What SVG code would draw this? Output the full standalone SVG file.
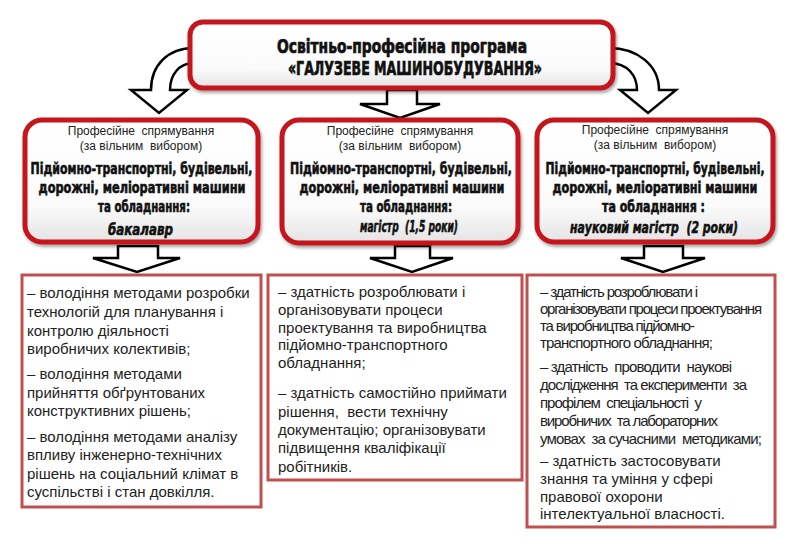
<svg xmlns="http://www.w3.org/2000/svg" width="794" height="560" viewBox="0 0 794 560">
<defs>
<linearGradient id="gBox" x1="0" y1="0" x2="0" y2="1">
<stop offset="0" stop-color="#ffffff"/>
<stop offset="0.7" stop-color="#fbfbfb"/>
<stop offset="1" stop-color="#e4e4e4"/>
</linearGradient>
<filter id="sh" x="-10%" y="-10%" width="120%" height="130%">
<feDropShadow dx="1.5" dy="2.5" stdDeviation="1.8" flood-color="#000" flood-opacity="0.35"/>
</filter>
</defs>
<style>
.rbox{fill:url(#gBox);stroke:#c4121c;stroke-width:5;filter:url(#sh)}
.obox{fill:#fff;stroke:#c0504d;stroke-width:3}
.arr{fill:#fff;stroke:#000;stroke-width:2.5;stroke-linejoin:miter}
.cond{font-family:"Liberation Sans Narrow","DejaVu Sans Condensed","Liberation Sans",sans-serif;font-weight:bold;fill:#111;stroke:#111;stroke-width:0.55}
.title{font-size:20px;stroke-width:0.7}
.bl{font-size:15px;text-anchor:middle}
.it{font-style:italic}
.sm{font-family:"Liberation Sans",Arial,sans-serif;font-size:12px;fill:#222;text-anchor:middle;white-space:pre}
.tx{font-family:"Liberation Sans",Arial,sans-serif;font-size:15px;fill:#222;white-space:pre}
</style>
<rect width="794" height="560" fill="#fff"/>
<g id="connectors">
<path class="arr" d="M194,48 C168,48 151,65 151,90 L131,90 L159,113 L187,90 L170,90 C170,76 178,63 194,63 Z"/>
<path class="arr" d="M609,48 C637,48 659,65 659,90 L676,90 L648,113 L620,90 L637,90 C637,76 628,63 609,63 Z"/>
<path class="arr" d="M387,90 L417,90 L417,104 L440,104 L400,118 L360,104 L387,104 Z"/>
<path class="arr" d="M118,246 L158,246 L158,258 L180,258 L137,272 L93,258 L118,258 Z"/>
<path class="arr" d="M395,246 L430,246 L430,258 L453,258 L412,272 L370,258 L395,258 Z"/>
<path class="arr" d="M644,246 L683,246 L683,258 L705,258 L663,272 L621,258 L644,258 Z"/>
</g>
<g id="top">
<rect class="rbox" x="190" y="22" width="423" height="66" rx="13"/>
<text class="cond title" x="402" y="53" text-anchor="middle" textLength="250" lengthAdjust="spacingAndGlyphs">Освітньо-професійна програма</text>
<text class="cond title" x="415" y="75" text-anchor="middle" textLength="254" lengthAdjust="spacingAndGlyphs">«ГАЛУЗЕВЕ МАШИНОБУДУВАННЯ»</text>
</g>
<g id="box1">
<rect class="rbox" x="25" y="120" width="233" height="122" rx="17"/>
<text class="sm" x="141" y="135">Професійне  спрямування</text>
<text class="sm" x="141" y="150">(за вільним  вибором)</text>
<text class="cond bl" x="141.5" y="174" textLength="222" lengthAdjust="spacingAndGlyphs">Підйомно-транспортні, будівельні,</text>
<text class="cond bl" x="142" y="193" textLength="207" lengthAdjust="spacingAndGlyphs">дорожні, меліоративні машини</text>
<text class="cond bl" x="144" y="212" textLength="92" lengthAdjust="spacingAndGlyphs">та обладнання:</text>
<text class="cond bl it" x="140.5" y="235" textLength="65" lengthAdjust="spacingAndGlyphs">бакалавр</text>
</g>
<g id="box2">
<rect class="rbox" x="282" y="120" width="236" height="123" rx="17"/>
<text class="sm" x="400" y="135">Професійне  спрямування</text>
<text class="sm" x="400" y="150">(за вільним  вибором)</text>
<text class="cond bl" x="401" y="174" textLength="222" lengthAdjust="spacingAndGlyphs">Підйомно-транспортні, будівельні,</text>
<text class="cond bl" x="402" y="193" textLength="205" lengthAdjust="spacingAndGlyphs">дорожні, меліоративні машини</text>
<text class="cond bl" x="406" y="212" textLength="92" lengthAdjust="spacingAndGlyphs">та обладнання:</text>
<text class="cond bl it" x="409" y="232" textLength="98" lengthAdjust="spacingAndGlyphs" style="white-space:pre">магістр  (1,5 роки)</text>
</g>
<g id="box3">
<rect class="rbox" x="537" y="120" width="236" height="122" rx="17"/>
<text class="sm" x="655" y="134">Професійне  спрямування</text>
<text class="sm" x="655" y="149">(за вільним  вибором)</text>
<text class="cond bl" x="655" y="174" textLength="219" lengthAdjust="spacingAndGlyphs">Підйомно-транспортні, будівельні,</text>
<text class="cond bl" x="655" y="193" textLength="205" lengthAdjust="spacingAndGlyphs">дорожні, меліоративні машини</text>
<text class="cond bl" x="653.5" y="212" textLength="103" lengthAdjust="spacingAndGlyphs">та обладнання :</text>
<text class="cond bl it" x="654" y="233" textLength="168" lengthAdjust="spacingAndGlyphs" style="white-space:pre">науковий магістр  (2 роки)</text>
</g>
<g id="out1">
<rect class="obox" x="22" y="275" width="239" height="232"/>
<text class="tx" x="27" y="298">– володіння методами розробки</text>
<text class="tx" x="27" y="317">технологій для планування і</text>
<text class="tx" x="27" y="336">контролю діяльності</text>
<text class="tx" x="27" y="354">виробничих колективів;</text>
<text class="tx" x="27" y="379">– володіння методами</text>
<text class="tx" x="27" y="398">прийняття обґрунтованих</text>
<text class="tx" x="27" y="416">конструктивних рішень;</text>
<text class="tx" x="27" y="442">– володіння методами аналізу</text>
<text class="tx" x="27" y="460">впливу інженерно-технічних</text>
<text class="tx" x="27" y="479">рішень на соціальний клімат в</text>
<text class="tx" x="27" y="497">суспільстві і стан довкілля.</text>
</g>
<g id="out2">
<rect class="obox" x="268" y="275" width="254" height="205"/>
<text class="tx" x="278" y="297">– здатність розроблювати і</text>
<text class="tx" x="278" y="315">організовувати процеси</text>
<text class="tx" x="278" y="333">проектування та виробництва</text>
<text class="tx" x="278" y="350">підйомно-транспортного</text>
<text class="tx" x="278" y="368">обладнання;</text>
<text class="tx" x="278" y="398">– здатність самостійно приймати</text>
<text class="tx" x="278" y="417">рішення,  вести технічну</text>
<text class="tx" x="278" y="435">документацію; організовувати</text>
<text class="tx" x="278" y="453">підвищення кваліфікації</text>
<text class="tx" x="278" y="472">робітників.</text>
</g>
<g id="out3">
<rect class="obox" x="527" y="275" width="248" height="252"/>
<text class="tx" x="540" y="297" textLength="158">– здатність розроблювати і</text>
<text class="tx" x="540" y="314" textLength="222">організовувати процеси проектування</text>
<text class="tx" x="540" y="331" textLength="155">та виробництва підйомно-</text>
<text class="tx" x="540" y="348" textLength="173">транспортного обладнання;</text>
<text class="tx" x="540" y="372" textLength="192">– здатність  проводити  наукові</text>
<text class="tx" x="540" y="390" textLength="207">дослідження  та експерименти  за</text>
<text class="tx" x="540" y="408" textLength="162">профілем  спеціальності  у</text>
<text class="tx" x="540" y="426" textLength="178">виробничих  та лабораторних</text>
<text class="tx" x="540" y="444" textLength="222">умовах  за сучасними  методиками;</text>
<text class="tx" x="540" y="466">– здатність застосовувати</text>
<text class="tx" x="540" y="484">знання та уміння у сфері</text>
<text class="tx" x="540" y="502">правової охорони</text>
<text class="tx" x="540" y="519">інтелектуальної власності.</text>
</g>
</svg>
